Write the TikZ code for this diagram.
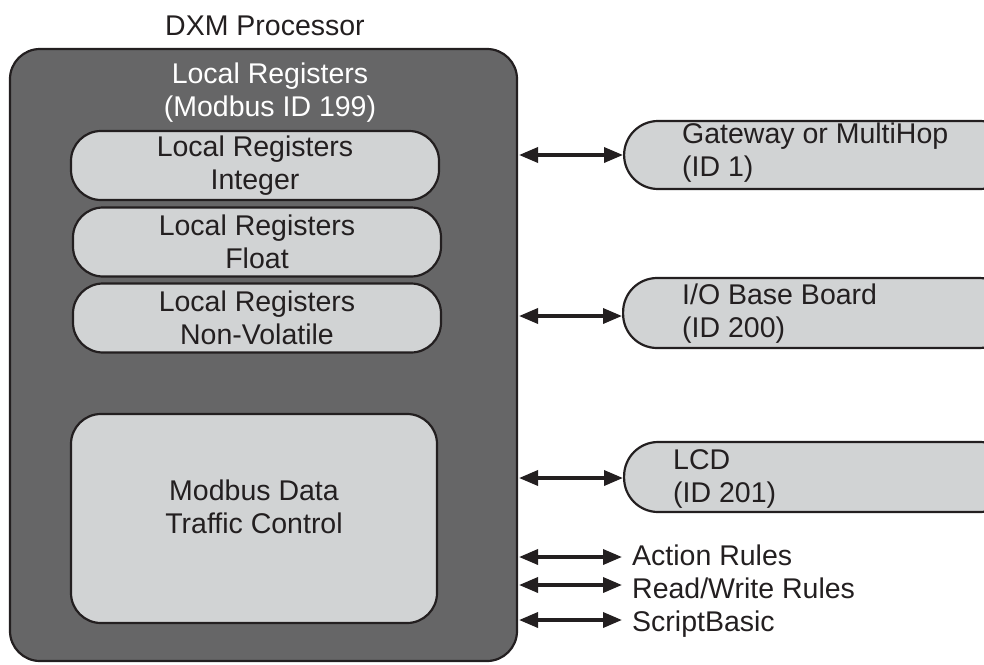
\documentclass[tikz,border=0pt]{standalone}
\usepackage{fontspec}
\setmainfont{Liberation Sans}
\usetikzlibrary{arrows.meta}
\definecolor{ink}{RGB}{35,31,32}
\definecolor{darkfill}{RGB}{102,102,103}
\definecolor{lightfill}{RGB}{209,211,212}
\tikzset{
  txt/.style={font=\fontsize{28.5}{33}\selectfont, text=ink, inner sep=0pt, align=center},
  outerbox/.style={draw=ink, line width=2.2pt, fill=darkfill, rounded corners=30pt, inner sep=0pt},
  pill/.style={draw=ink, line width=2.2pt, fill=lightfill, rounded corners=30pt, inner sep=0pt,
    font=\fontsize{28.5}{33}\selectfont, text=ink, align=center},
  sidebox/.style={draw=ink, line width=2.2pt, fill=lightfill, rounded corners=34pt, inner sep=0pt},
  biarrow/.style={draw=ink, line width=3.5pt, {Triangle[length=19pt,width=15pt]}-{Triangle[length=19pt,width=15pt]}},
}
\begin{document}
\begin{tikzpicture}[x=1pt,y=-1pt]
\useasboundingbox (0,0) rectangle (984,664);
\node[txt] (title) at (265,26) {DXM Processor};
\node[outerbox, minimum width=507pt, minimum height=612pt] (dxm) at (263.5,355) {};
\node[txt, text=white] (lr) at (270,93) {Local Registers\\(Modbus ID 199)};
\node[pill, minimum width=368pt, minimum height=69pt] (int) at (255,165.5) {Local Registers\\Integer};
\node[pill, minimum width=368pt, minimum height=69pt] (flt) at (257,242) {Local Registers\\Float};
\node[pill, minimum width=368pt, minimum height=69pt] (nv) at (257,318) {Local Registers\\Non-Volatile};
\node[pill, minimum width=366pt, minimum height=209pt] (mdtc) at (254,518.5) {};
\node[txt] (mdtct) at (254,507) {Modbus Data\\Traffic Control};

\node[sidebox, minimum width=390pt, minimum height=68pt, anchor=west] (gw) at (623,155) {};
\node[txt, align=left, anchor=west] (gwt) at (682,153) {Gateway or MultiHop\\(ID 1)};
\node[sidebox, minimum width=390pt, minimum height=70pt, anchor=west] (io) at (622,313) {};
\node[txt, align=left, anchor=west] (iot) at (682,314) {I/O Base Board\\(ID 200)};
\node[sidebox, minimum width=390pt, minimum height=70pt, anchor=west] (lcd) at (623,477) {};
\node[txt, align=left, anchor=west] (lcdt) at (673,479) {LCD\\(ID 201)};

\node[txt, anchor=west, text height=20pt, text depth=0pt] (ar) at (632,555) {Action Rules};
\node[txt, anchor=west, text height=20pt, text depth=0pt] (rw) at (632,588) {Read/Write Rules};
\node[txt, anchor=west, text height=20pt, text depth=0pt] (sb) at (632,621) {ScriptBasic};

\coordinate (g0) at (519,155);
\coordinate (i0) at (519,316);
\coordinate (l0) at (519,478);
\coordinate (a0) at (519,557);
\coordinate (r0) at (519,585);
\coordinate (s0) at (519,620);
\draw[biarrow] (g0) -- (gw.west |- g0);
\draw[biarrow] (i0) -- (io.west |- i0);
\draw[biarrow] (l0) -- (lcd.west |- l0);
\draw[biarrow] (a0) -- ([xshift=-10pt]ar.west |- a0);
\draw[biarrow] (r0) -- ([xshift=-10pt]rw.west |- r0);
\draw[biarrow] (s0) -- ([xshift=-10pt]sb.west |- s0);
\end{tikzpicture}
\end{document}
